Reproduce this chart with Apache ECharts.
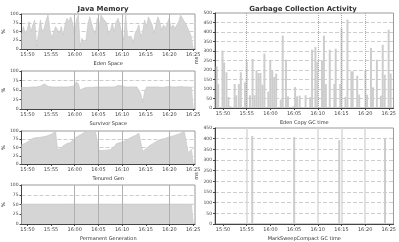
<!DOCTYPE html>
<html><head><meta charset="utf-8">
<script src="https://cdn.jsdelivr.net/npm/echarts@6/dist/echarts.min.js"></script>
<style>html,body{margin:0;padding:0;background:#fff}#c{width:399px;height:242px}</style>
</head><body><div id="c"></div>
<script>
// ---------- data ----------
const tickLabels = ['15:50','15:55','16:00','16:05','16:10','16:15','16:20','16:25'];
const leftMarkedTicks = ['16:00','16:05','16:10','16:20'];
const rightMarkedTicks = ['15:55','16:10','16:15','16:20'];
const leftRange = ['15:48:45','16:25:24'];
const rightRange = ['15:48:18','16:26:00'];
const memSampleStart = '15:48:45';
const memSampleStepSec = 24;

const edenValues = [40,64,45,55,78,50,69,83,8,45,83,50,59,83,97,55,31,50,64,55,45,64,40,69,88,78,92,74,45,83,97,8,31,17,26,69,92,74,55,45,88,59,97,88,88,74,45,55,74,50,78,88,69,45,26,97,36,31,36,17,45,55,69,36,50,83,64,92,88,69,45,69,92,78,55,69,59,64,88,59,69,59,55,78,97,88,83,69,64,45,31,36];
const survivorValues = [57,58,57,58,57,58,58,57,58,59,60,64,66,63,60,59,58,58,58,59,58,58,58,59,58,58,59,60,61,72,66,50,51,55,57,57,58,57,57,58,57,58,57,58,57,58,59,58,57,58,60,62,63,61,59,58,58,58,58,58,57,58,57,40,17,45,58,58,58,59,58,58,58,58,57,58,58,58,59,58,58,58,58,58,59,58,58,57,58,58,57,58];
const tenuredValues = [58,60,63,65,70,75,78,79,80,81,81,82,83,85,86,88,91,95,100,43,45,48,55,61,62,64,65,72,78,82,85,88,91,95,98,100,100,100,100,100,99,41,41,41,41,42,43,44,45,53,61,63,65,67,68,72,75,78,81,83,86,90,93,94,38,42,48,53,57,61,64,68,71,73,75,77,78,80,82,83,85,87,89,91,93,96,98,99,35,41,45,48];
const permValues = [51,51,51,51,51,51,51,51,51,51,51,51,51,51,51,51,51,51,51,51,51,51,51,51,51,51,51,51,51,51,51,51,51,51,51,51,51,51,51,51,51,51,51,51,51,51,51,51,51,51,51,51,51,51,51,51,51,51,51,51,51,51,51,51,51,51,51,51,51,51,51,51,51,51,51,51,51,51,51,51,51,51,51,51,51,51,51,51,51,51,51,51];

const gcStart = '15:48:18';
const copyGcOffsetsSec = [21,41,95,116,145,170,195,249,269,302,327,381,402,443,476,501,526,551,576,601,626,675,700,725,750,775,833,858,899,924,994,1015,1040,1073,1148,1206,1230,1272,1297,1355,1380,1404,1454,1512,1529,1587,1603,1653,1678,1728,1744,1802,1827,1906,1927,1976,2001,2051,2101,2125,2150,2200,2225];
const copyGcMs = [219,126,302,240,188,58,9,126,67,126,188,135,244,67,258,67,198,184,184,123,286,86,253,198,163,181,44,381,254,61,9,110,61,65,67,58,307,321,244,251,381,126,307,126,312,126,419,58,465,193,193,170,70,198,70,316,109,254,65,333,175,412,181];
const fullGcOffsetsSec = [472,1003,1574,2154];
const fullGcMs = [413,408,393,400];

const memNames = ['Eden Space','Survivor Space','Tenured Gen','Permanent Generation'];
const gcNames = ['Eden Copy GC time','MarkSweepCompact GC time'];

// ---------- helpers ----------
function toSec(s){const p=s.split(':').map(Number);return p[0]*3600+p[1]*60+(p[2]||0);}
function fmt(v){const h=Math.floor(v/3600),m=Math.floor((v%3600)/60);return h+':'+String(m).padStart(2,'0');}
const tickSecs = tickLabels.map(toSec);

const memSeries = [edenValues,survivorValues,tenuredValues,permValues].map(arr =>
  arr.map((v,i)=>[toSec(memSampleStart)+i*memSampleStepSec, v]));
const copyData = copyGcOffsetsSec.map((o,i)=>[toSec(gcStart)+o, copyGcMs[i]]);
const fullData = fullGcOffsetsSec.map((o,i)=>[toSec(gcStart)+o, fullGcMs[i]]);

const FONT = 'DejaVu Sans';
const leftGrids = [
  {left:16,top:14,width:179,height:35},
  {left:16,top:71,width:179,height:38},
  {left:16,top:131,width:179,height:33},
  {left:16,top:185,width:179,height:39}
];
const rightGrids = [
  {left:215,top:13,width:182,height:95},
  {left:215,top:128,width:182,height:96}
];
const grids = leftGrids.concat(rightGrids).map(g=>Object.assign({show:true,borderColor:'#9a9a9a',borderWidth:1,backgroundColor:'#fff'},g));

function xAxis(i, range, name){
  return {
    type:'value', gridIndex:i, min:toSec(range[0]), max:toSec(range[1]),
    name:name, nameLocation:'middle', nameGap:12,
    nameTextStyle:{fontSize:5,color:'#333',fontFamily:FONT},
    axisLine:{show:true,lineStyle:{color:'#444',width:1}},
    axisTick:{show:true,length:2,customValues:tickSecs,lineStyle:{color:'#444'}},
    axisLabel:{fontSize:5,color:'#444',margin:3,fontFamily:FONT,customValues:tickSecs,formatter:fmt},
    splitLine:{show:false}
  };
}
function yAxis(i, max, interval, name){
  return {
    type:'value', gridIndex:i, min:0, max:max, interval:interval,
    name:name, nameLocation:'middle', nameGap: max>100?14:10, nameRotate:90,
    nameTextStyle:{fontSize:5,color:'#333',fontFamily:FONT},
    axisLine:{show:true,lineStyle:{color:'#444',width:1}},
    axisTick:{show:true,length:2,lineStyle:{color:'#444'}},
    axisLabel:{fontSize:4.5,color:'#444',margin:3,fontFamily:FONT},
    splitLine:{show:true,lineStyle:{color:'#cdcdcd',type:'dashed',width:1}}
  };
}
function marks(list, style){
  return {symbol:'none',silent:true,label:{show:false},
    lineStyle:Object.assign({color:'#a8a8a8',width:1,type:'solid'},style),
    data:list.map(t=>({xAxis:toSec(t)}))};
}

const xAxes = [], yAxes = [], series = [];
memNames.forEach((n,i)=>{
  xAxes.push(xAxis(i, leftRange, n));
  yAxes.push(yAxis(i, 100, 25, '%'));
  series.push({type:'line',xAxisIndex:i,yAxisIndex:i,data:memSeries[i],symbol:'none',
    lineStyle:{color:'#c4c4c4',width:0.6},areaStyle:{color:'#d5d5d5',opacity:1},
    markLine:marks(leftMarkedTicks,{color:'#b0b0b0'}),animation:false});
});
xAxes.push(xAxis(4, rightRange, gcNames[0]));
yAxes.push(yAxis(4, 500, 50, 'ms'));
series.push({type:'bar',xAxisIndex:4,yAxisIndex:4,data:copyData,barWidth:2,
  itemStyle:{color:'#cdcdcd'},markLine:marks(rightMarkedTicks,{color:'#a8a8a8',type:'dotted'}),animation:false});
xAxes.push(xAxis(5, rightRange, gcNames[1]));
yAxes.push(yAxis(5, 450, 50, 'ms'));
series.push({type:'bar',xAxisIndex:5,yAxisIndex:5,data:fullData,barWidth:2,
  itemStyle:{color:'#cdcdcd'},markLine:marks(rightMarkedTicks,{color:'#d8d8d8',width:1.5}),animation:false});

const chart = echarts.init(document.getElementById('c'),null,{renderer:'canvas'});
chart.setOption({
  backgroundColor:'#fff', animation:false,
  title:[
    {text:'Java Memory',left:98,top:1,textAlign:'center',textStyle:{fontSize:7,color:'#333',fontWeight:600,fontFamily:FONT}},
    {text:'Garbage Collection Activity',left:298,top:1,textAlign:'center',textStyle:{fontSize:7,color:'#333',fontWeight:600,fontFamily:FONT}}
  ],
  grid:grids, xAxis:xAxes, yAxis:yAxes, series:series
});
</script></body></html>
